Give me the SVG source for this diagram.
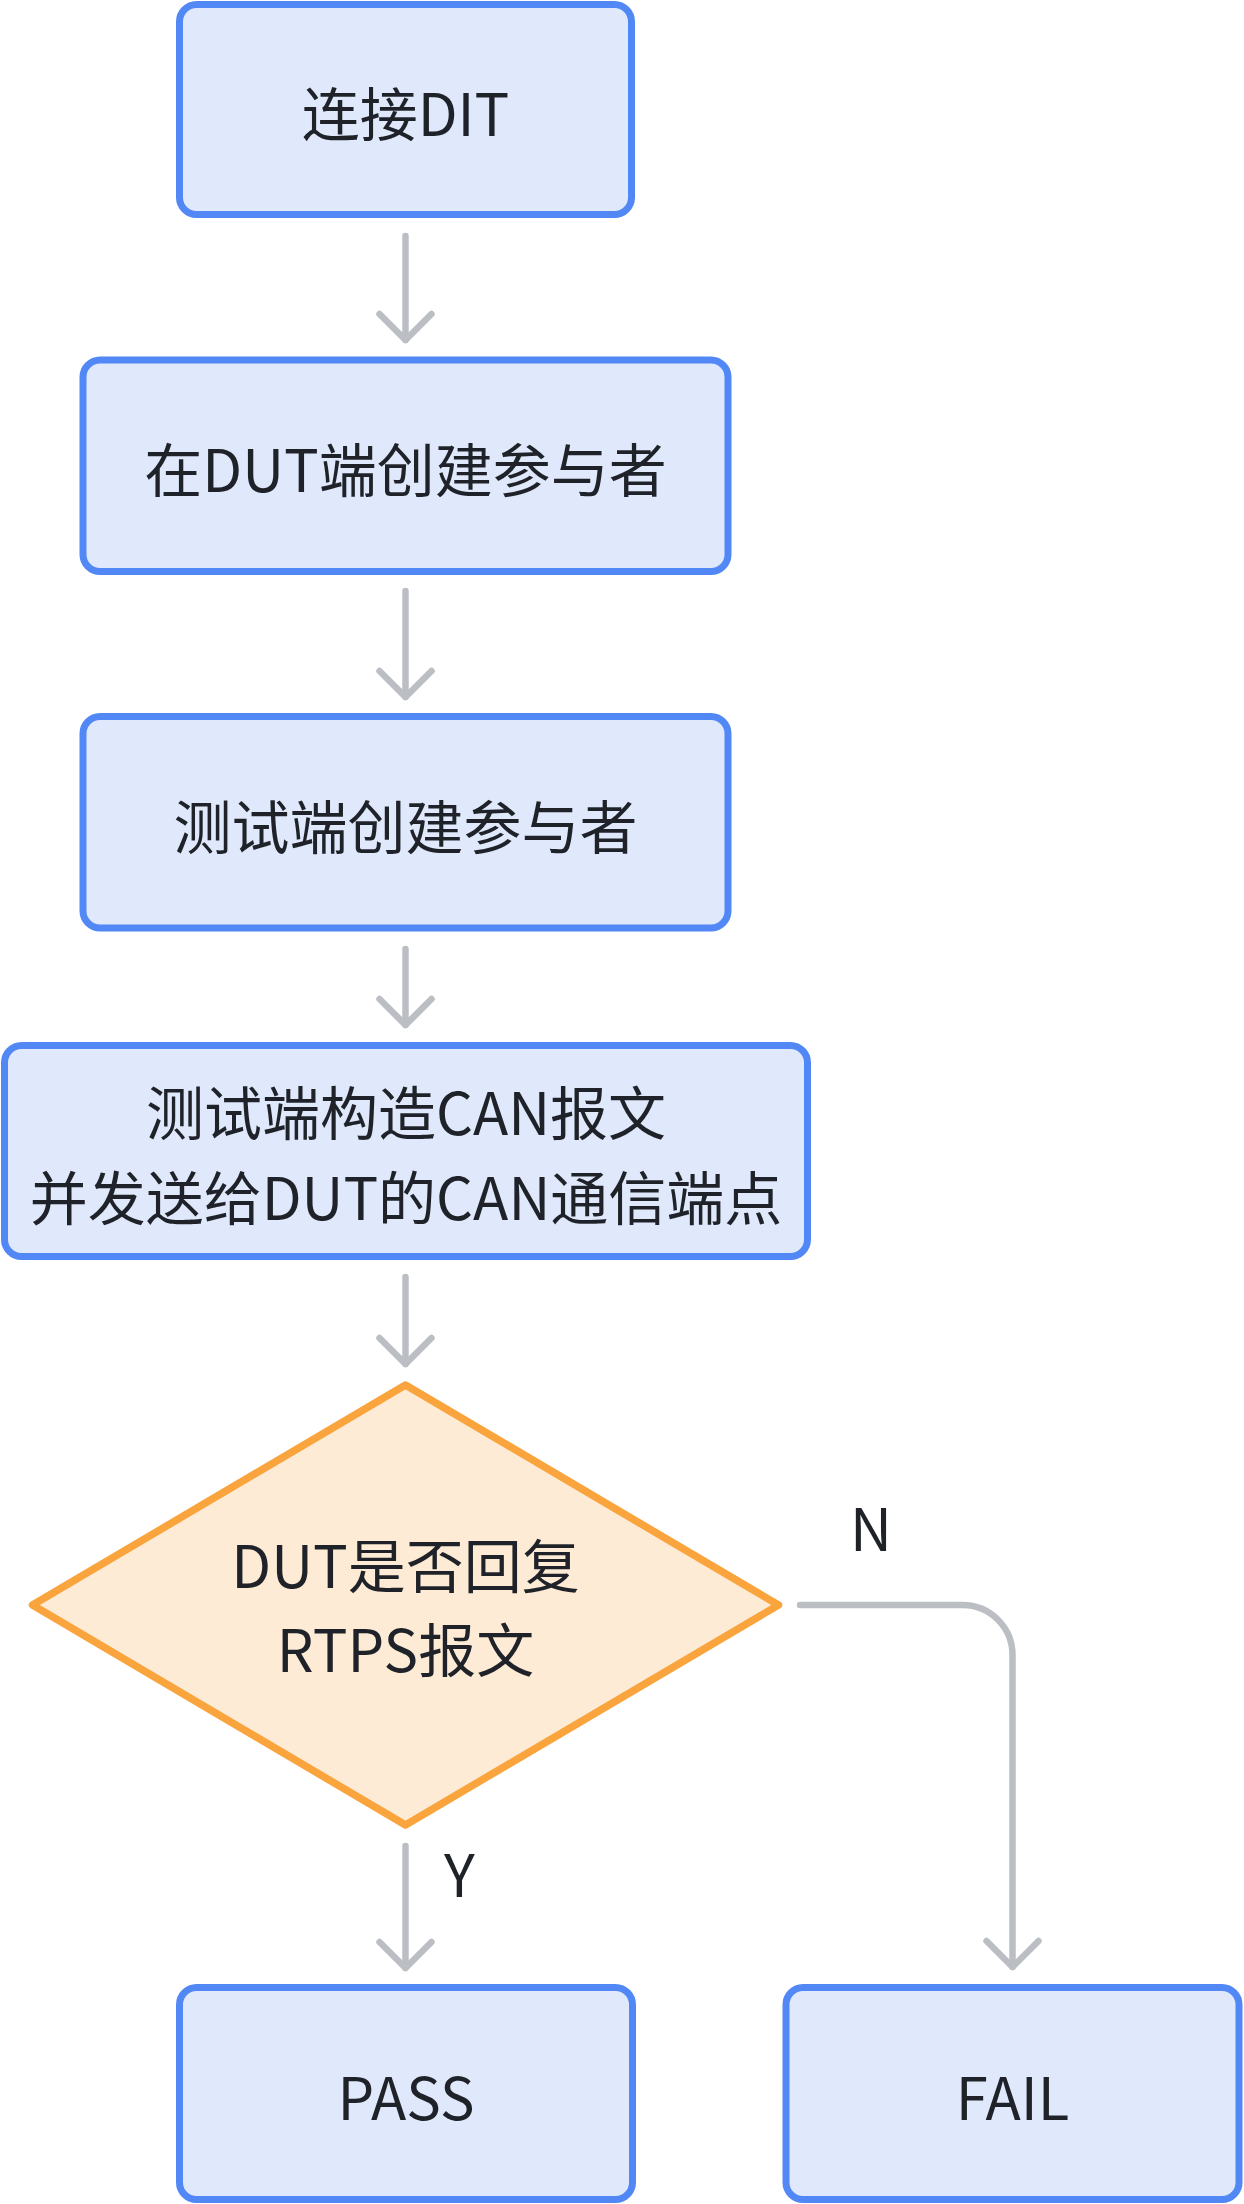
<svg xmlns="http://www.w3.org/2000/svg" width="1244" height="2204" viewBox="0 0 1244 2204">
  <style>
    .box { fill: #E0E9FC; stroke: #5288F5; stroke-width: 7; }
    .decision { fill: #FDEBD5; stroke: #FAA43E; stroke-width: 7.5; stroke-linejoin: round; }
    .label { font-family: "Noto Sans CJK SC", "Noto Sans", sans-serif; font-size: 58px; fill: #1F2329; text-anchor: middle; }
    .edge-label { font-family: "Noto Sans CJK SC", "Noto Sans", sans-serif; font-size: 58px; fill: #1F2329; }
    .link { fill: none; stroke: #BBBFC4; stroke-width: 6.5; stroke-linecap: round; stroke-linejoin: round; marker-end: url(#chevron); }
  </style>
  <defs>
    <marker id="chevron" markerUnits="userSpaceOnUse" orient="auto" refX="0" refY="0" markerWidth="60" markerHeight="60" overflow="visible">
      <path d="M -26 -26 L 0 0 L -26 26" fill="none" stroke="#BBBFC4" stroke-width="6.5" stroke-linecap="round" stroke-linejoin="round"/>
    </marker>
  </defs>

  <rect width="1244" height="2204" fill="#FFFFFF"/>

  <g id="connectors">
    <path class="link" d="M 405.5 236 V 340"/>
    <path class="link" d="M 405.5 591 V 697"/>
    <path class="link" d="M 405.5 949 V 1025"/>
    <path class="link" d="M 405.5 1277 V 1364"/>
    <path class="link" d="M 405.5 1846 V 1968"/>
    <path class="link" d="M 800 1605 H 962 A 50 50 0 0 1 1012.5 1655 V 1967"/>
    <text class="edge-label" x="444" y="1897">Y</text>
    <text class="edge-label" x="850" y="1551">N</text>
  </g>

  <g id="connect-dit">
    <rect class="box" x="179.5" y="4.5" width="452" height="210" rx="17"/>
    <text class="label" x="405.5" y="136">连接DIT</text>
  </g>

  <g id="dut-participant">
    <rect class="box" x="83" y="360" width="645" height="211.5" rx="17"/>
    <text class="label" x="405.5" y="492">在DUT端创建参与者</text>
  </g>

  <g id="tester-participant">
    <rect class="box" x="83" y="716.5" width="645" height="211.5" rx="17"/>
    <text class="label" x="405.5" y="848.5">测试端创建参与者</text>
  </g>

  <g id="send-can">
    <rect class="box" x="4.5" y="1045.5" width="803" height="211" rx="17"/>
    <text class="label" x="406" y="1135">测试端构造CAN报文</text>
    <text class="label" x="406" y="1220">并发送给DUT的CAN通信端点</text>
  </g>

  <g id="rtps-reply">
    <polygon class="decision" points="405.5,1385 778.5,1605 405.5,1825 32.5,1605"/>
    <text class="label" x="405.5" y="1588">DUT是否回复</text>
    <text class="label" x="405.5" y="1672">RTPS报文</text>
  </g>

  <g id="pass">
    <rect class="box" x="179.5" y="1987.5" width="453" height="212" rx="17"/>
    <text class="label" x="406" y="2119.5">PASS</text>
  </g>

  <g id="fail">
    <rect class="box" x="786" y="1987.5" width="453" height="212" rx="17"/>
    <text class="label" x="1012.5" y="2119.5">FAIL</text>
  </g>
</svg>
